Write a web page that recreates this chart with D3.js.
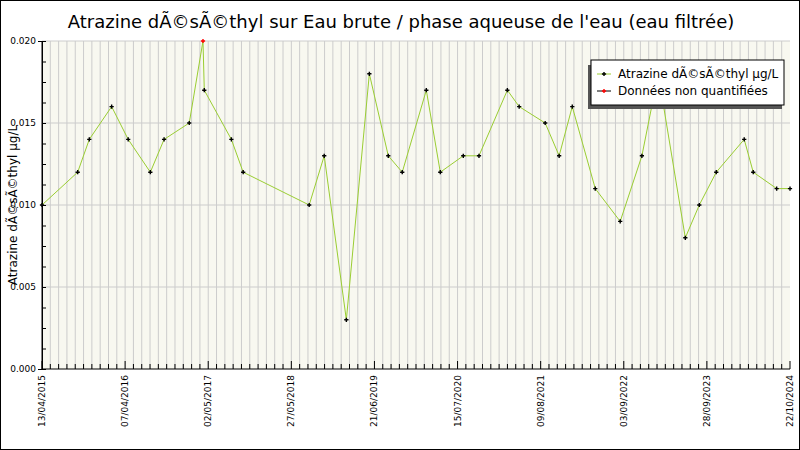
<!DOCTYPE html>
<html><head><meta charset="utf-8">
<script src="https://cdn.jsdelivr.net/npm/d3@7"></script>
<style>body{margin:0;background:#fff}text{font-family:"DejaVu Sans",sans-serif}</style>
</head><body><svg id="c" width="800" height="450"></svg>
<script>
// sample dates and values (µg/L)
var dates = ["2015-04-13","2015-09-26","2015-11-19","2016-03-02","2016-05-18","2016-08-29","2016-11-01","2017-02-26","2017-05-01","2017-05-07","2017-09-10","2017-11-04","2018-09-07","2018-11-16","2019-02-27","2019-06-14","2019-09-10","2019-11-14","2020-03-05","2020-05-09","2020-08-24","2020-11-05","2021-03-17","2021-05-11","2021-09-09","2021-11-13","2022-01-13","2022-04-30","2022-08-24","2022-12-03","2023-02-17","2023-06-23","2023-08-27","2023-11-14","2024-03-23","2024-05-04","2024-08-21","2024-10-22"];
var values = [0.010,0.012,0.014,0.016,0.014,0.012,0.014,0.015,0.020,0.017,0.014,0.012,0.010,0.013,0.003,0.018,0.013,0.012,0.017,0.012,0.013,0.013,0.017,0.016,0.015,0.013,0.016,0.011,0.009,0.013,0.018,0.008,0.010,0.012,0.014,0.012,0.011,0.011];
var nonQuantified = [false,false,false,false,false,false,false,false,true,false,false,false,false,false,false,false,false,false,false,false,false,false,false,false,false,false,false,false,false,false,false,false,false,false,false,false,false,false];
var tickLabels = ["13/04/2015","07/04/2016","02/05/2017","27/05/2018","21/06/2019","15/07/2020","09/08/2021","03/09/2022","28/09/2023","22/10/2024"];

var parse = d3.timeParse("%Y-%m-%d");
var data = dates.map(function(d, i){ return {date: parse(d), v: values[i], nq: nonQuantified[i]}; });

var svg = d3.select("#c");
var L = 42, R = 790, T = 41, B = 369;
svg.append("rect").attr("x",0.5).attr("y",0.5).attr("width",799).attr("height",449).attr("fill","#fff").attr("stroke","#000");

var x = d3.scaleTime().domain([parse("2015-04-13"), parse("2024-10-22")]).range([L, R]);
var y = d3.scaleLinear().domain([0, 0.02]).range([B, T]);
var xs = d3.scaleLinear().domain([0, 90]).range([L, R]); // minor grid index

svg.append("rect").attr("x",L).attr("y",T).attr("width",R-L).attr("height",B-T).attr("fill","#f8f8f0");

// vertical minor grid
svg.append("g").selectAll("line").data(d3.range(1, 90)).enter().append("line")
  .attr("x1", xs).attr("x2", xs).attr("y1", T).attr("y2", B)
  .attr("stroke", "#cccccc").attr("stroke-width", 1);
// horizontal grid
svg.append("g").selectAll("line").data([0.005,0.01,0.015,0.02]).enter().append("line")
  .attr("x1", L).attr("x2", R).attr("y1", y).attr("y2", y)
  .attr("stroke", "#cccccc");

// y axis
var ya = svg.append("g").attr("transform","translate("+L+",0)")
  .call(d3.axisLeft(y).tickValues(d3.range(0, 0.0201, 0.00125)).tickSize(4)
    .tickFormat(function(d){ return Math.abs(d - 0.005*Math.round(d/0.005)) < 1e-9 ? d3.format(".3f")(d) : ""; }));
ya.selectAll("text").attr("font-size", 9).attr("x", -6);
ya.selectAll("line").attr("x2", 4);

// x axis
var xa = svg.append("g").attr("transform","translate(0,"+B+")");
xa.append("line").attr("x1",L).attr("x2",R).attr("y1",0).attr("y2",0).attr("stroke","#000");
xa.selectAll(".mt").data(d3.range(0, 91)).enter().append("line")
  .attr("x1", xs).attr("x2", xs).attr("y1", 0).attr("y2", function(d){ return d % 10 === 0 ? -8 : -5; })
  .attr("stroke","#000");
xa.selectAll("text").data(tickLabels).enter().append("text")
  .attr("transform", function(d, i){ return "translate(" + (xs(i*10)+3) + ",6) rotate(-90)"; })
  .attr("text-anchor","end").attr("font-size", 9).text(function(d){ return d; });

svg.append("line").attr("x1",L).attr("x2",L).attr("y1",T).attr("y2",B).attr("stroke","#000");

// line + points
svg.append("path").datum(data)
  .attr("d", d3.line().x(function(d){ return x(d.date); }).y(function(d){ return y(d.v); }))
  .attr("fill","none").attr("stroke","#9acd32").attr("stroke-width",1);
var cross = d3.symbol().type(d3.symbolCross).size(10);
svg.append("g").selectAll("path").data(data).enter().append("path")
  .attr("d", cross).attr("transform", function(d){ return "translate(" + x(d.date) + "," + y(d.v) + ")"; })
  .attr("fill", function(d){ return d.nq ? "red" : "black"; });

// title, y label
svg.append("text").attr("x", 401).attr("y", 28).attr("text-anchor","middle").attr("font-size", 18)
  .text("Atrazine dÃ©sÃ©thyl sur Eau brute / phase aqueuse de l'eau (eau filtrée)");
svg.append("text").attr("transform","translate(17,205) rotate(-90)").attr("text-anchor","middle").attr("font-size", 12)
  .text("Atrazine dÃ©sÃ©thyl µg/L");

// legend
var lg = svg.append("g").attr("transform","translate(591,60)");
lg.append("rect").attr("x",-3).attr("y",5).attr("width",194).attr("height",44).attr("fill","#555");
lg.append("rect").attr("x",0).attr("y",0).attr("width",193).attr("height",45).attr("fill","#fff").attr("stroke","#000");
[["Atrazine dÃ©sÃ©thyl µg/L","#9acd32","black"],["Données non quantifiées","black","red"]].forEach(function(r, i){
  var yy = 14 + i*17;
  lg.append("line").attr("x1",6).attr("x2",20).attr("y1",yy).attr("y2",yy).attr("stroke",r[1]);
  lg.append("path").attr("d",cross).attr("transform","translate(13,"+yy+")").attr("fill",r[2]);
  lg.append("text").attr("x",27).attr("y",yy+4).attr("font-size",12).text(r[0]);
});
</script></body></html>
